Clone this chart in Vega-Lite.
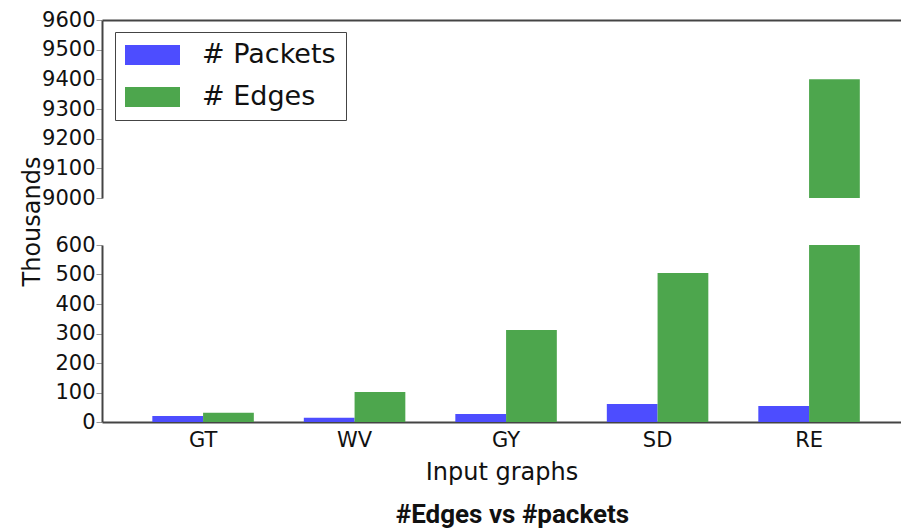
{
  "$schema": "https://vega.github.io/schema/vega-lite/v6.json",
  "padding": {"left": 20, "top": 9, "right": 0, "bottom": 0},
  "background": "white",
  "title": {"text": "#Edges vs #packets", "orient": "bottom", "anchor": "middle", "font": "Liberation Sans Narrow, Roboto, sans-serif", "fontSize": 26, "fontWeight": "bold", "color": "#111", "offset": 14, "dx": 52, "dy": 4},
  "data": {"values": [
    {"graph": "GT", "series": "# Packets", "value": 20},
    {"graph": "GT", "series": "# Edges", "value": 31},
    {"graph": "WV", "series": "# Packets", "value": 14},
    {"graph": "WV", "series": "# Edges", "value": 102},
    {"graph": "GY", "series": "# Packets", "value": 27},
    {"graph": "GY", "series": "# Edges", "value": 312},
    {"graph": "SD", "series": "# Packets", "value": 61},
    {"graph": "SD", "series": "# Edges", "value": 505},
    {"graph": "RE", "series": "# Packets", "value": 54},
    {"graph": "RE", "series": "# Edges", "value": 9400}
  ]},
  "bounds": "flush",
  "spacing": 47,
  "config": {
    "view": {"stroke": null},
    "font": "DejaVu Sans",
    "axis": {"labelFont": "DejaVu Sans", "titleFont": "DejaVu Sans", "labelColor": "#111", "titleColor": "#111", "titleFontWeight": "normal", "grid": false, "domainColor": "#444", "domainWidth": 2, "tickColor": "#999", "labelFontSize": 21, "titleFontSize": 24}
  },
  "vconcat": [
    {
      "width": 799,
      "height": 178,
      "mark": {"type": "bar", "clip": true},
      "encoding": {
        "x": {"field": "graph", "type": "nominal", "sort": ["GT", "WV", "GY", "SD", "RE"], "scale": {"paddingInner": 0.33, "paddingOuter": 0.302, "align": 0.55}, "axis": {"orient": "top", "labels": false, "ticks": false, "title": null, "domain": true}},
        "xOffset": {"field": "series", "type": "nominal", "sort": ["# Packets", "# Edges"], "scale": {"paddingInner": 0, "paddingOuter": 0}},
        "y": {"field": "value", "type": "quantitative", "scale": {"domain": [9000, 9600], "nice": false, "zero": false}, "axis": {"values": [9000, 9100, 9200, 9300, 9400, 9500, 9600], "format": "d", "title": null, "tickSize": 6, "labelPadding": 1}},
        "color": {"field": "series", "type": "nominal", "sort": ["# Packets", "# Edges"], "scale": {"domain": ["# Packets", "# Edges"], "range": ["#4d4dff", "#4da64d"]},
          "legend": {"title": null, "orient": "none", "legendX": 13, "legendY": 12, "labelFont": "DejaVu Sans", "labelFontSize": 27, "labelColor": "#111", "labelOffset": 22, "symbolType": "M-1,-0.364H1V0.364H-1Z", "symbolSize": 3025, "symbolStrokeWidth": 0, "symbolOpacity": 1, "clipHeight": 26, "rowPadding": 15, "padding": 10, "strokeColor": "#444", "fillColor": "white"}}
      }
    },
    {
      "width": 799,
      "height": 177,
      "mark": {"type": "bar", "clip": true},
      "encoding": {
        "x": {"field": "graph", "type": "nominal", "sort": ["GT", "WV", "GY", "SD", "RE"], "scale": {"paddingInner": 0.33, "paddingOuter": 0.302, "align": 0.55}, "axis": {"orient": "bottom", "labelAngle": 0, "ticks": false, "labelPadding": 7, "title": "Input graphs", "titlePadding": 10}},
        "xOffset": {"field": "series", "type": "nominal", "sort": ["# Packets", "# Edges"], "scale": {"paddingInner": 0, "paddingOuter": 0}},
        "y": {"field": "value", "type": "quantitative", "scale": {"domain": [0, 600], "nice": false}, "axis": {"values": [0, 100, 200, 300, 400, 500, 600], "title": "Thousands", "tickSize": 6, "labelPadding": 1, "titleX": -58, "titleY": -24, "titleAnchor": "middle"}},
        "color": {"field": "series", "type": "nominal", "sort": ["# Packets", "# Edges"]}
      }
    }
  ]
}
